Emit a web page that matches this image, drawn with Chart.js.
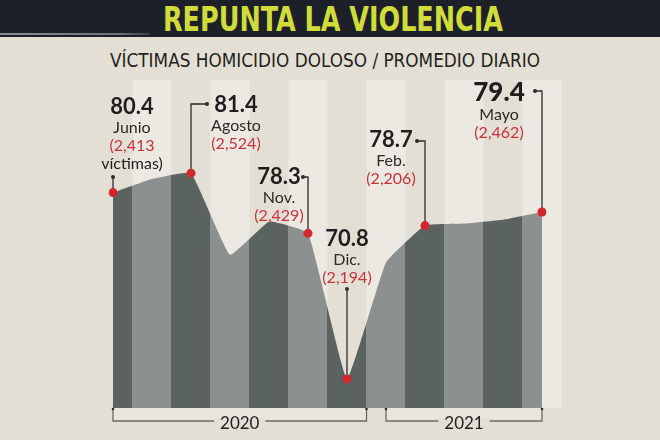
<!DOCTYPE html>
<html>
<head>
<meta charset="utf-8">
<script src="https://cdn.jsdelivr.net/npm/chart.js@4"></script>
<style>
  html, body { margin:0; padding:0; background:#e3dfd5; }
  #wrap { position:relative; width:660px; height:440px; overflow:hidden; }
  #bar { position:absolute; left:0; top:0; width:660px; height:37px; background:#1e2029; }
  #barline { position:absolute; left:0; top:33px; width:150px; height:2px; background:linear-gradient(to right,#8a8d92,#6d7077 80%,#3a3d45); }
  .fit { position:absolute; white-space:nowrap; transform-origin:0 0; }
  #title { top:0; font-family:"DejaVu Sans",sans-serif; font-stretch:condensed; font-weight:bold; font-size:33px; line-height:40px; color:#cfdc3a; }
  #subtitle { top:47px; font-family:"DejaVu Sans",sans-serif; font-stretch:condensed; font-size:19px; line-height:26px; color:#231f20; }
  canvas { position:absolute; left:0; top:0; }
</style>
</head>
<body>
<div id="wrap">
  <div id="bar"></div>
  <div id="barline"></div>
  <span id="title" class="fit" data-left="163" data-width="340">REPUNTA LA VIOLENCIA</span>
  <span id="subtitle" class="fit" data-left="110" data-width="430">VÍCTIMAS HOMICIDIO DOLOSO / PROMEDIO DIARIO</span>
  <canvas id="c" width="660" height="440"></canvas>
</div>
<script>
// ---- data ----
const months = ['Jun','Jul','Ago','Sep','Oct','Nov','Dic','Ene','Feb','Mar','Abr','May'];
const dailyAvg = [80.4, 81.1, 81.4, 77.2, 78.9, 78.3, 70.8, 76.8, 78.7, 78.8, 79.0, 79.4];
const labeledIdx = [0, 2, 5, 6, 8, 11];
const labelNames = ['Junio', 'Agosto', 'Nov.', 'Dic.', 'Feb.', 'Mayo'];
const victims = ['2,413', '2,524', '2,429', '2,194', '2,206', '2,462'];
const years = ['2020', '2021'];
const yearFrom = [0, 7];
const yearTo = [6.5, 11];

// fit heading texts to the reference widths
document.querySelectorAll('.fit').forEach(el => {
  const w = el.getBoundingClientRect().width;
  const target = +el.dataset.width;
  el.style.left = el.dataset.left + 'px';
  el.style.transform = 'scaleX(' + (target / w) + ')';
});

// ---- styling / annotation layout (relative to points and chart area) ----
const DARK = '#5a6360', LIGHT = '#8c918f', RED = '#d4262d', REDTXT = '#c8333a', INK = '#1f1d1e';
const FONT = 'Lato, "Open Sans", sans-serif';
const annot = [
  { elbow: 97,  stub: 0,  dx: 19,  ty: 27 },
  { elbow: 24,  stub: 16, dx: 45,  ty: 25 },
  { elbow: 97,  stub: -5, dx: -29, ty: 97 },
  { elbow: 209, stub: 0,  dx: 0,   ty: 159 },
  { elbow: 61,  stub: -8, dx: -34, ty: 60 },
  { elbow: 11,  stub: -7, dx: -43, ty: 13, big: true }
];

function areaFill(ctx) {
  const chart = ctx.chart;
  const ca = chart.chartArea;
  if (!ca) return DARK;
  const xs = chart.scales.x;
  const g = chart.ctx.createLinearGradient(ca.left, 0, ca.right, 0);
  const w = ca.right - ca.left;
  for (let i = 0; i < months.length; i++) {
    const a = Math.max(0, (xs.getPixelForValue(i - 0.5) - ca.left) / w);
    const b = Math.min(1, (xs.getPixelForValue(i + 0.5) - ca.left) / w);
    const col = i % 2 === 0 ? DARK : LIGHT;
    g.addColorStop(a, col);
    g.addColorStop(b, col);
  }
  return g;
}

const decor = {
  id: 'decor',
  beforeDatasetsDraw(chart) {
    const { ctx, chartArea: ca, scales: { x } } = chart;
    ctx.save();
    ctx.fillStyle = '#ece9e2';
    for (let i = 1; i < months.length; i += 2) {
      const l = x.getPixelForValue(i - 0.5), r = x.getPixelForValue(i + 0.5);
      ctx.fillRect(l, ca.top, r - l, ca.bottom - ca.top);
    }
    const meta = chart.getDatasetMeta(0);
    ctx.strokeStyle = '#2b2b2b';
    ctx.lineWidth = 1.3;
    labeledIdx.forEach((idx, k) => {
      const p = meta.data[idx];
      const a = annot[k];
      const ey = ca.top + a.elbow;
      ctx.beginPath();
      ctx.moveTo(p.x, p.y);
      ctx.lineTo(p.x, ey);
      ctx.lineTo(p.x + a.stub, ey);
      ctx.stroke();
      ctx.fillStyle = '#2b2b2b';
      ctx.beginPath();
      ctx.arc(p.x + a.stub, ey, 2, 0, Math.PI * 2);
      ctx.fill();
    });
    ctx.restore();
  },
  afterDatasetsDraw(chart) {
    const { ctx, chartArea: ca, scales: { x } } = chart;
    const meta = chart.getDatasetMeta(0);
    ctx.save();
    ctx.textAlign = 'center';
    ctx.textBaseline = 'middle';
    labeledIdx.forEach((idx, k) => {
      const p = meta.data[idx];
      const a = annot[k];
      const cx = p.x + a.dx;
      let y = ca.top + a.ty;
      ctx.fillStyle = INK;
      ctx.font = (a.big ? '900 26px ' : 'bold 22px ') + FONT;
      ctx.fillText(dailyAvg[idx].toFixed(1), cx, y);
      y += a.big ? 22 : 21;
      ctx.fillStyle = '#2a2a2a';
      ctx.font = '16px ' + FONT;
      ctx.fillText(labelNames[k], cx, y);
      y += 18;
      ctx.fillStyle = REDTXT;
      ctx.font = '16px ' + FONT;
      if (k === 0) {
        ctx.fillText('(' + victims[k], cx, y);
        y += 18;
        ctx.fillStyle = INK;
        ctx.fillText('víctimas)', cx, y);
      } else {
        ctx.fillText('(' + victims[k] + ')', cx, y);
      }
    });
    const by = ca.bottom + 13;
    years.forEach((yr, k) => {
      const l = x.getPixelForValue(yearFrom[k]);
      const r = x.getPixelForValue(yearTo[k]);
      ctx.fillStyle = '#e9e6de';
      ctx.fillRect(l, ca.bottom, r - l, by - ca.bottom);
      ctx.strokeStyle = '#6a6a66';
      ctx.lineWidth = 1.3;
      ctx.beginPath();
      ctx.moveTo(l, ca.bottom);
      ctx.lineTo(l, by);
      ctx.lineTo(r, by);
      ctx.lineTo(r, ca.bottom);
      ctx.stroke();
      ctx.fillStyle = '#2a2a2a';
      ctx.beginPath();
      ctx.arc(l, ca.bottom + 1, 1.3, 0, Math.PI * 2);
      ctx.arc(r, ca.bottom + 1, 1.3, 0, Math.PI * 2);
      ctx.fill();
      const cx = (l + r) / 2;
      ctx.font = '17px ' + FONT;
      const tw = ctx.measureText(yr).width;
      ctx.fillStyle = '#e3dfd5';
      ctx.fillRect(cx - tw / 2 - 6, by - 3, tw + 12, 6);
      ctx.fillStyle = '#222';
      ctx.fillText(yr, cx, by + 3);
    });
    ctx.restore();
  }
};

new Chart(document.getElementById('c'), {
  type: 'line',
  data: {
    labels: months,
    datasets: [{
      data: dailyAvg,
      fill: 'origin',
      backgroundColor: areaFill,
      borderWidth: 0,
      borderColor: 'rgba(0,0,0,0)',
      tension: 0.1,
      pointRadius: (c) => labeledIdx.includes(c.dataIndex) ? 4.5 : 0,
      pointHoverRadius: (c) => labeledIdx.includes(c.dataIndex) ? 4.5 : 0,
      pointBackgroundColor: RED,
      pointBorderWidth: 0
    }]
  },
  options: {
    responsive: false,
    animation: false,
    events: [],
    layout: { padding: { left: 113, right: 118, top: 80, bottom: 32 } },
    plugins: { legend: { display: false }, tooltip: { enabled: false } },
    scales: {
      x: { display: false, offset: false },
      y: { display: false, min: 69.3, max: 86.2 }
    }
  },
  plugins: [decor]
});
</script>
</body>
</html>
